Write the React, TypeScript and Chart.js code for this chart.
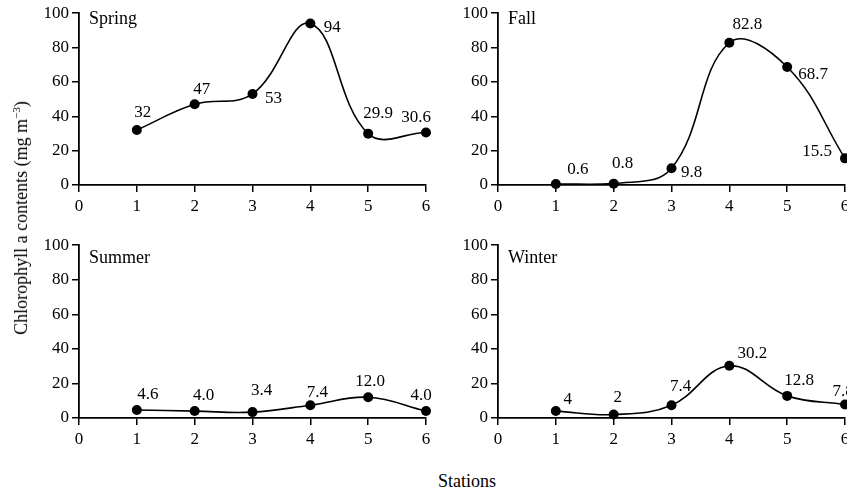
import React, { useEffect, useRef } from 'react';
import { Chart, registerables } from 'chart.js';

Chart.register(...registerables);

// ---- data ----
const stations = [1, 2, 3, 4, 5, 6];
const xTickLabels = ['0', '1', '2', '3', '4', '5', '6'];
const yTickLabels = ['0', '20', '40', '60', '80', '100'];

const springValues = [32, 47, 53, 94, 29.9, 30.6];
const springLabels = ['32', '47', '53', '94', '29.9', '30.6'];

const fallValues = [0.6, 0.8, 9.8, 82.8, 68.7, 15.5];
const fallLabels = ['0.6', '0.8', '9.8', '82.8', '68.7', '15.5'];

const summerValues = [4.6, 4.0, 3.4, 7.4, 12.0, 4.0];
const summerLabels = ['4.6', '4.0', '3.4', '7.4', '12.0', '4.0'];

const winterValues = [4, 2, 7.4, 30.2, 12.8, 7.8];
const winterLabels = ['4', '2', '7.4', '30.2', '12.8', '7.8'];

// ---- label placement (style) ----
const springOffsets = [[6, -17], [7, -15], [21, 5], [22, 4], [10, -20], [-10, -15]];
const fallOffsets = [[22, -14], [9, -20], [20, 4], [18, -18], [26, 8], [-28, -7]];
const summerOffsets = [[11, -16], [9, -16], [9, -22], [7, -13], [2, -16], [-5, -16]];
const winterOffsets = [[12, -12], [4, -17], [9, -19], [23, -12], [12, -15], [-2, -13]];

const FONT_FAMILY = '"Liberation Serif", "DejaVu Serif", serif';

type PanelProps = {
  left: number;
  top: number;
  title: string;
  titleDy: number;
  values: number[];
  labels: string[];
  offsets: number[][];
};

function Panel({ left, top, title, titleDy, values, labels, offsets }: PanelProps) {
  const ref = useRef<HTMLCanvasElement | null>(null);

  useEffect(() => {
    if (!ref.current) return;
    const annot = {
      id: 'annot',
      afterDatasetsDraw(chart: any) {
        const ctx = chart.ctx;
        const area = chart.chartArea;
        ctx.save();
        ctx.fillStyle = '#000';
        ctx.font = `18px ${FONT_FAMILY}`;
        ctx.textAlign = 'left';
        ctx.textBaseline = 'alphabetic';
        ctx.fillText(title, area.left + 10, area.top + titleDy);
        ctx.font = `17px ${FONT_FAMILY}`;
        ctx.textAlign = 'center';
        ctx.textBaseline = 'middle';
        const meta = chart.getDatasetMeta(0);
        meta.data.forEach((pt: any, i: number) => {
          const [dx, dy] = offsets[i];
          ctx.fillText(labels[i], pt.x + dx, pt.y + dy);
        });
        ctx.restore();
      },
    };

    const tickFont = { family: FONT_FAMILY, size: 17 };
    const chart = new Chart(ref.current, {
      type: 'line',
      data: {
        datasets: [
          {
            data: stations.map((s, i) => ({ x: s, y: values[i] })),
            borderColor: '#000',
            borderWidth: 1.6,
            pointRadius: 5,
            pointBackgroundColor: '#000',
            pointBorderColor: '#000',
            pointBorderWidth: 0,
            tension: 0.4,
            fill: false,
            clip: false as any,
          },
        ],
      },
      options: {
        responsive: false,
        animation: false,
        events: [],
        layout: { padding: { left: 0, top: 12, right: 10, bottom: 0 } },
        plugins: { legend: { display: false }, tooltip: { enabled: false } },
        scales: {
          x: {
            type: 'linear',
            min: 0,
            max: 6,
            ticks: {
              stepSize: 1,
              color: '#000',
              font: tickFont,
              padding: 4,
              maxRotation: 0,
              autoSkip: false,
              callback: (v: any) => xTickLabels[Number(v)] ?? '',
            },
            grid: {
              drawOnChartArea: false,
              drawTicks: true,
              tickLength: 7,
              color: '#000',
              lineWidth: 1.5,
            },
            border: { color: '#000', width: 1.8 },
            afterFit: (s: any) => {
              s.height = 35;
            },
          },
          y: {
            type: 'linear',
            min: 0,
            max: 100,
            ticks: {
              stepSize: 20,
              color: '#000',
              font: tickFont,
              padding: 3,
              callback: (v: any) => yTickLabels[Number(v) / 20] ?? '',
            },
            grid: {
              drawOnChartArea: false,
              drawTicks: true,
              tickLength: 7,
              color: '#000',
              lineWidth: 1.5,
            },
            border: { color: '#000', width: 1.8 },
            afterFit: (s: any) => {
              s.width = 79;
            },
          },
        },
      } as any,
      plugins: [annot],
    });
    return () => chart.destroy();
  }, []);

  return (
    <canvas
      ref={ref}
      width={436}
      height={top === 0 ? 220 : 221}
      style={{ position: 'absolute', left, top, display: 'block' }}
    />
  );
}

export default function App() {
  return (
    <div
      style={{
        position: 'fixed',
        left: 0,
        top: 0,
        width: 847,
        height: 493,
        overflow: 'hidden',
        background: '#fff',
        fontFamily: FONT_FAMILY,
        color: '#000',
      }}
    >
      <Panel left={0} top={0} title="Spring" titleDy={11} values={springValues} labels={springLabels} offsets={springOffsets} />
      <Panel left={419} top={0} title="Fall" titleDy={11} values={fallValues} labels={fallLabels} offsets={fallOffsets} />
      <Panel left={0} top={232} title="Summer" titleDy={17.5} values={summerValues} labels={summerLabels} offsets={summerOffsets} />
      <Panel left={419} top={232} title="Winter" titleDy={17.5} values={winterValues} labels={winterLabels} offsets={winterOffsets} />
      <div
        style={{
          position: 'absolute',
          left: 21,
          top: 218,
          transform: 'translate(-50%, -50%) rotate(-90deg)',
          whiteSpace: 'nowrap',
          fontSize: 18,
          lineHeight: '20px',
        }}
      >
        Chlorophyll a contents (mg m<sup style={{ fontSize: 11, verticalAlign: 'top', lineHeight: '10px' }}>−3</sup>)
      </div>
      <div
        style={{
          position: 'absolute',
          left: 467,
          top: 481,
          transform: 'translate(-50%, -50%)',
          whiteSpace: 'nowrap',
          fontSize: 18,
          lineHeight: '20px',
        }}
      >
        Stations
      </div>
    </div>
  );
}
